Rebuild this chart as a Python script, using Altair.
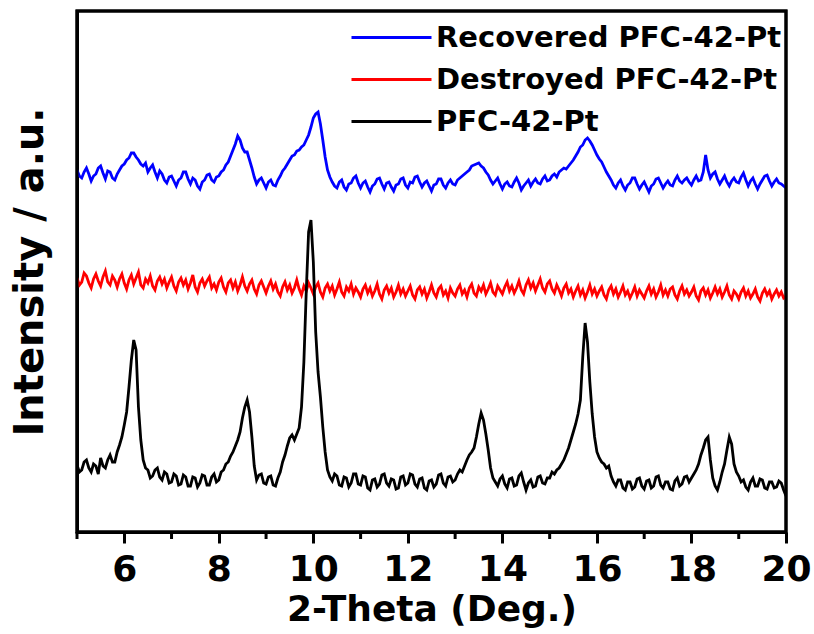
import altair as alt
import pandas as pd

# 2-Theta grid: 5.00 .. 20.00 step 0.05 (301 points)
two_theta = [round(5 + 0.05 * i, 2) for i in range(301)]

black_pfc = [
    67, 60, 62, 70, 72, 64, 60, 68, 66, 58, 74, 66, 64, 72, 77, 70, 70, 80, 87, 95,
    107, 120, 145, 172, 192, 182, 125, 92, 72, 64, 62, 54, 56, 62, 64, 55, 52, 60, 58, 49,
    50, 58, 56, 47, 48, 57, 55, 46, 46, 55, 54, 45, 49, 57, 56, 47, 47, 55, 58, 50,
    52, 60, 62, 68, 70, 76, 80, 86, 92, 100, 114, 125, 132, 120, 95, 66, 52, 57, 58, 49,
    48, 55, 56, 47, 46, 54, 60, 70, 77, 86, 94, 97, 92, 98, 104, 125, 170, 240, 300, 312,
    270, 200, 160, 135, 105, 80, 62, 55, 51, 58, 56, 47, 46, 55, 54, 45, 49, 58, 58, 48,
    47, 56, 55, 44, 42, 52, 53, 45, 48, 57, 58, 49, 46, 53, 52, 43, 44, 55, 56, 47,
    49, 58, 57, 48, 45, 53, 54, 44, 42, 51, 52, 45, 48, 57, 58, 49, 46, 55, 56, 50,
    52, 58, 62, 60, 66, 72, 77, 80, 84, 95, 108, 119, 112, 98, 82, 64, 54, 50, 46, 53,
    56, 48, 44, 53, 54, 46, 47, 56, 59, 50, 42, 49, 52, 45, 46, 55, 56, 49, 48, 54,
    54, 60, 58, 62, 64, 68, 72, 78, 84, 92, 100, 108, 118, 132, 175, 209, 190, 150, 118, 95,
    80, 74, 70, 68, 64, 66, 56, 50, 46, 52, 52, 44, 42, 50, 50, 43, 45, 53, 54, 46,
    43, 51, 52, 44, 46, 55, 56, 47, 44, 50, 50, 43, 42, 51, 54, 46, 48, 55, 56, 50,
    54, 58, 62, 68, 77, 84, 92, 95, 72, 54, 46, 42, 50, 60, 68, 82, 95, 88, 68, 60,
    56, 50, 52, 45, 42, 50, 54, 46, 46, 53, 52, 44, 43, 50, 50, 44, 45, 51, 49, 42,
    36,
]

red_destroyed = [
    254, 247, 250, 259, 256, 249, 244, 253, 258, 251, 246, 255, 261, 250, 247, 256, 252, 245, 253, 258,
    249, 243, 252, 257, 248, 254, 260, 247, 244, 253, 249, 256, 246, 242, 251, 255, 248, 253, 244, 250,
    255, 246, 241, 250, 254, 247, 252, 243, 249, 257, 245, 240, 249, 253, 246, 251, 255, 244, 248, 242,
    250, 254, 245, 240, 249, 252, 244, 250, 241, 247, 255, 246, 241, 248, 252, 243, 238, 247, 251, 245,
    239, 246, 251, 243, 248, 240, 236, 245, 250, 242, 247, 239, 244, 252, 243, 237, 246, 241, 249, 244,
    238, 245, 249, 240, 235, 244, 248, 241, 246, 237, 243, 250, 240, 236, 245, 241, 248, 238, 244, 240,
    235, 243, 247, 239, 244, 236, 241, 248, 238, 233, 242, 246, 239, 244, 235, 240, 247, 238, 243, 236,
    241, 246, 237, 233, 242, 245, 238, 243, 234, 240, 247, 239, 235, 243, 246, 237, 241, 234, 244, 239,
    236, 243, 247, 238, 242, 235, 244, 248, 239, 236, 245, 241, 247, 238, 243, 249, 240, 237, 246, 242,
    238, 245, 250, 241, 246, 239, 244, 251, 242, 238, 247, 252, 244, 249, 241, 247, 253, 244, 240, 248,
    251, 243, 239, 247, 242, 236, 244, 248, 239, 243, 235, 241, 246, 237, 242, 234, 240, 247, 238, 243,
    236, 241, 245, 237, 233, 242, 246, 238, 243, 235, 240, 246, 237, 241, 234, 239, 245, 236, 242, 238,
    234, 241, 246, 238, 243, 235, 240, 247, 237, 242, 236, 243, 245, 237, 233, 241, 246, 238, 242, 236,
    240, 245, 236, 232, 241, 244, 237, 242, 234, 239, 245, 238, 243, 235, 240, 246, 237, 233, 241, 238,
    233, 240, 244, 236, 241, 234, 238, 243, 235, 231, 239, 243, 237, 241, 233, 238, 242, 236, 240, 234,
    236,
]

blue_recovered = [
    362, 356, 354, 360, 364, 358, 351, 356, 358, 364, 366, 359, 353, 361, 360, 354, 352, 358, 362, 366,
    368, 372, 374, 379, 379, 375, 372, 368, 366, 369, 360, 364, 367, 360, 354, 361, 358, 352, 349, 355,
    356, 351, 346, 352, 354, 360, 360, 353, 348, 354, 352, 346, 343, 350, 352, 357, 358, 352, 350, 355,
    356, 360, 362, 367, 370, 376, 382, 388, 396, 392, 384, 380, 380, 372, 364, 355, 348, 352, 354, 349,
    344, 350, 352, 347, 346, 352, 356, 361, 364, 368, 372, 376, 377, 381, 382, 385, 387, 392, 397, 405,
    414, 418, 420, 408, 392, 375, 362, 355, 350, 346, 344, 350, 352, 345, 342, 348, 349, 354, 356, 349,
    344, 349, 351, 345, 340, 346, 348, 353, 354, 348, 343, 349, 350, 345, 341, 347, 348, 353, 354, 347,
    344, 350, 349, 355, 356, 350, 345, 349, 351, 346, 341, 347, 348, 353, 353, 347, 344, 349, 352, 348,
    347, 352, 354, 356, 358, 360, 362, 366, 367, 368, 369, 366, 364, 360, 357, 352, 348, 351, 354, 348,
    343, 348, 350, 346, 345, 350, 354, 349, 342, 346, 349, 352, 346, 350, 353, 349, 348, 353, 356, 351,
    352, 356, 358, 355, 360, 362, 364, 363, 366, 369, 372, 376, 380, 385, 387, 392, 394, 391, 387, 382,
    377, 373, 370, 365, 360, 356, 352, 347, 344, 349, 352, 346, 342, 347, 349, 354, 354, 348, 343, 347,
    350, 345, 340, 346, 348, 353, 354, 349, 344, 348, 351, 347, 346, 352, 356, 351, 349, 352, 354, 350,
    347, 352, 356, 351, 352, 360, 377, 362, 354, 358, 360, 353, 348, 352, 356, 350, 346, 351, 354, 350,
    349, 355, 359, 352, 346, 351, 354, 348, 343, 348, 352, 356, 357, 351, 346, 350, 353, 349, 348, 346,
    344,
]

series_names = ["Recovered PFC-42-Pt", "Destroyed PFC-42-Pt", "PFC-42-Pt"]
series_colors = ["#0000FF", "#FF0000", "#000000"]
major_ticks = [6, 8, 10, 12, 14, 16, 18, 20]
minor_ticks = [5, 7, 9, 11, 13, 15, 17, 19]
x_range = [5, 20]
y_range = [0, 521]

rows = []
for name, vals, order in [
    ("Destroyed PFC-42-Pt", red_destroyed, 1),
    ("Recovered PFC-42-Pt", blue_recovered, 2),
    ("PFC-42-Pt", black_pfc, 3),
]:
    for xv, yv in zip(two_theta, vals):
        rows.append({"theta": xv, "intensity": yv, "series": name, "ord": order})
df = pd.DataFrame(rows)

FONT = "DejaVu Sans"
W, H = 709, 521

x_scale = alt.Scale(domain=x_range, nice=False, zero=False)
y_scale = alt.Scale(domain=y_range, nice=False, zero=False)

lines = alt.Chart(df).mark_line(strokeWidth=2.8, clip=True).encode(
    x=alt.X("theta:Q", scale=x_scale, axis=alt.Axis(
        values=major_ticks, title="2-Theta (Deg.)", grid=False,
        tickSize=11, tickWidth=3, tickColor="black",
        domainWidth=3, domainColor="black",
        labelFont=FONT, labelFontWeight="bold", labelFontSize=36, labelColor="black",
        labelPadding=9, labelFlush=False,
        titleFont=FONT, titleFontWeight="bold", titleFontSize=36, titleColor="black",
        titlePadding=5)),
    y=alt.Y("intensity:Q", scale=y_scale, axis=alt.Axis(
        title="Intensity / a.u.", labels=False, ticks=False, grid=False,
        domainWidth=3, domainColor="black",
        titleFont=FONT, titleFontWeight="bold", titleFontSize=40, titleColor="black",
        titlePadding=27)),
    color=alt.Color("series:N",
        scale=alt.Scale(domain=series_names, range=series_colors),
        legend=alt.Legend(
            title=None, orient="none", legendX=300, legendY=12,
            symbolType="M-4,0H4", symbolSize=400, symbolStrokeWidth=3,
            labelFont=FONT, labelFontWeight="bold", labelFontSize=29, labelColor="black",
            labelLimit=600, labelOffset=30, rowPadding=12, padding=0)),
    detail="ord:O",
    order="ord:Q",
)

minor = alt.Chart(pd.DataFrame({"t": minor_ticks})).mark_rule(
    color="black", strokeWidth=3
).encode(
    x=alt.X("t:Q", scale=x_scale),
    y=alt.value(H),
    y2=alt.value(H + 7),
)

# plot frame drawn as an unfilled rectangle over the plot area
frame = alt.Chart(pd.DataFrame({"e": ["frame"]})).mark_rect(
    fill="transparent", fillOpacity=0, stroke="#000000", strokeWidth=3
).encode(
    x=alt.value(0), x2=alt.value(W), y=alt.value(0), y2=alt.value(H)
)

chart = (
    alt.layer(lines, minor, frame)
    .properties(
        width=W,
        height=H,
        background="white",
        autosize=alt.AutoSizeParams(type="none"),
        padding={"left": 77, "top": 11, "right": 28, "bottom": 102},
    )
    .configure_view(stroke="black", strokeWidth=3)
)

chart.save("out.html", embed_options={"renderer": "svg", "actions": False})
